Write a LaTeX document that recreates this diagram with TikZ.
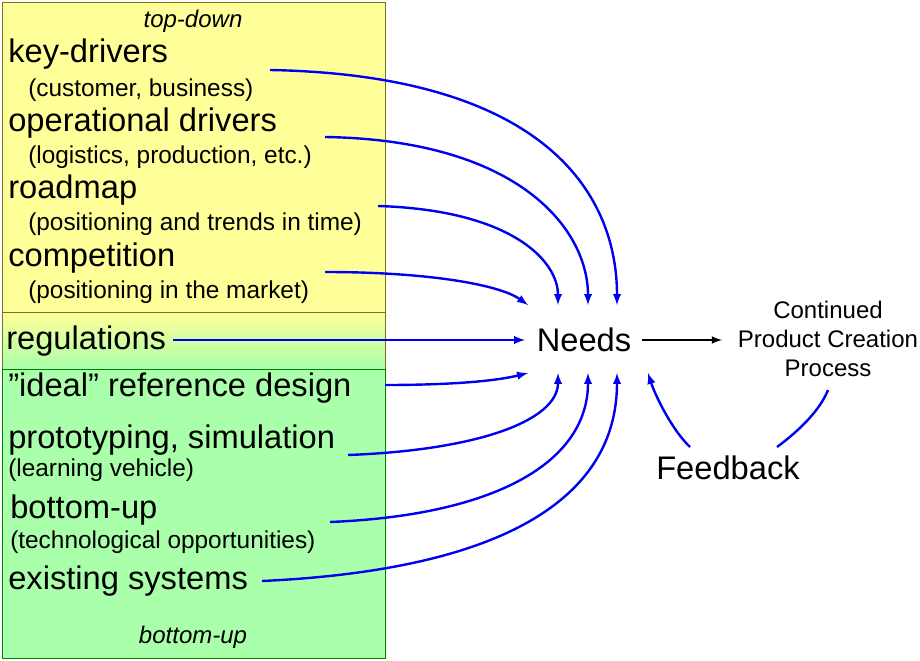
\documentclass[tikz,border=0pt]{standalone}
\usepackage{fontspec}
\setmainfont{Liberation Sans}
\usetikzlibrary{positioning}
\definecolor{padyellow}{RGB}{255,255,153}
\definecolor{padgreen}{RGB}{170,255,170}
\definecolor{arrowblue}{RGB}{0,0,240}
\tikzset{
  big/.style={anchor=base west,inner sep=0pt,font=\fontsize{24.5}{28}\selectfont},
  small/.style={anchor=base west,inner sep=0pt,font=\fontsize{18.3}{22}\selectfont},
  need/.style={draw=arrowblue,line width=1.8pt,-latex},
}
\begin{document}
\begin{tikzpicture}[x=0.75pt,y=-0.75pt]
\useasboundingbox (0,0) rectangle (920,660);
% source boxes
\filldraw[fill=padyellow,draw=olive!80!black] (2,2) rectangle (385,312);
\shade[top color=padyellow,bottom color=padgreen] (2,312) rectangle (385,369);
\draw[olive!80!black] (2,312) rectangle (385,369);
\filldraw[fill=padgreen,draw=green!50!black] (2,369) rectangle (385,658);
\node[anchor=base,inner sep=0pt,font=\fontsize{18}{20}\selectfont\itshape] (td) at (193,28) {top-down};
\node[anchor=base,inner sep=0pt,font=\fontsize{18}{20}\selectfont\itshape] (bu) at (193,643) {bottom-up};
% texts
\node[big] (kd) at (8,63) {key-drivers};
\node[small] (kds) at (28,96) {(customer, business)};
\node[big] (od) at (8,131) {operational drivers};
\node[small] (ods) at (28,163) {(logistics, production, etc.)};
\node[big] (rm) at (8,198) {roadmap};
\node[small] (rms) at (28,230) {(positioning and trends in time)};
\node[big] (cp) at (8,266) {competition};
\node[small] (cps) at (28,298) {(positioning in the market)};
\node[big] (rg) at (6,349) {regulations};
\node[big] (ir) at (8,396) {\symbol{34}ideal\symbol{34} reference design};
\node[big] (pt) at (8,448) {prototyping, simulation};
\node[small] (pts) at (8,476) {(learning vehicle)};
\node[big] (bt) at (10,518) {bottom-up};
\node[small] (bts) at (10,548) {(technological opportunities)};
\node[big] (ex) at (8,589) {existing systems};
\node[inner sep=0pt,font=\fontsize{24.5}{28}\selectfont] (nd) at (584,340) {Needs};
\node[inner sep=0pt,align=center,font=\fontsize{18}{22}\selectfont] (pc) at (828,339) {Continued\\Product Creation\\Process};
\node[inner sep=0pt,font=\fontsize{24.5}{28}\selectfont] (fb) at (728,468) {Feedback};
% ends on the needs node
\coordinate (n1) at (617,305);
\coordinate (n2) at (588,305);
\coordinate (n3) at (558,305);
\coordinate (n4) at (528,305);
\coordinate (n5) at (525,340);
\coordinate (n6) at (528,373);
\coordinate (n7) at (558,373);
\coordinate (n8) at (588,373);
\coordinate (n9) at (617,373);
\coordinate (n10) at (648,373);
% arrows
\draw[need] (270,70) .. controls (540,75) and (617,190) .. (n1);
\draw[need] (325,137) .. controls (520,140) and (588,230) .. (n2);
\draw[need] (378,206) .. controls (510,210) and (558,260) .. (n3);
\draw[need] (325,272) .. controls (430,272) and (500,285) .. (n4);
\draw[need] (173,340) -- (n5);
\draw[need] (385,385) .. controls (460,385) and (500,380) .. (n6);
\draw[need] (348,455) .. controls (480,450) and (558,420) .. (n7);
\draw[need] (330,522) .. controls (500,515) and (588,460) .. (n8);
\draw[need] (262,581) .. controls (500,570) and (617,500) .. (n9);
\draw[line width=1.6pt,-latex] (642,340) -- (722,340);
\draw[need] (690,447) .. controls (672,430) and (655,395) .. (n10);
\draw[draw=arrowblue,line width=1.8pt] (777,447) .. controls (800,430) and (820,410) .. (828,390);
\end{tikzpicture}
\end{document}
